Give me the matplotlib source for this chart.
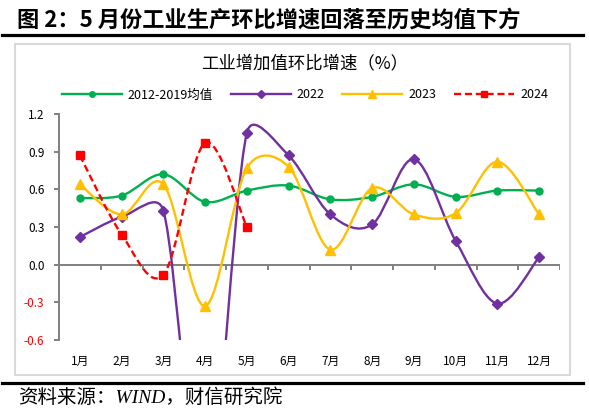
import numpy as np
import matplotlib.pyplot as plt
from matplotlib.path import Path
from matplotlib.patches import PathPatch, Rectangle
from matplotlib.lines import Line2D

plt.rcParams['font.family'] = ['Noto Sans CJK SC', 'DejaVu Sans']

months = ['1月', '2月', '3月', '4月', '5月', '6月', '7月', '8月', '9月', '10月', '11月', '12月']
avg_1219 = [0.53, 0.55, 0.72, 0.50, 0.59, 0.63, 0.52, 0.54, 0.64, 0.54, 0.59, 0.59]
y2022 = [0.22, 0.38, 0.43, -1.96, 1.05, 0.87, 0.40, 0.32, 0.84, 0.19, -0.31, 0.06]
y2023 = [0.64, 0.40, 0.64, -0.33, 0.77, 0.78, 0.12, 0.61, 0.40, 0.41, 0.82, 0.40]
y2024 = [0.87, 0.24, -0.08, 0.97, 0.30]
yticks = [-0.6, -0.3, 0.0, 0.3, 0.6, 0.9, 1.2]

W, H = 589, 415
fig = plt.figure(figsize=(W / 100, H / 100), dpi=100)

ax = fig.add_axes([59 / W, 1 - 340 / H, 501 / W, 226 / H])
ax.set_xlim(0.5, 12.5)
ax.set_ylim(-0.6, 1.2)


def smooth_path(y):
    # Excel-like smoothed line: bezier segments, control points worked out
    # in screen space, tangent = (next - prev)/6, capped to half the segment
    x = np.arange(1, len(y) + 1, dtype=float)
    tr = ax.transData
    p = tr.transform(np.column_stack([x, np.asarray(y, dtype=float)]))
    n = len(p)
    verts = [p[0]]
    codes = [Path.MOVETO]
    for i in range(n - 1):
        p0 = p[i - 1] if i > 0 else p[i]
        p1, p2 = p[i], p[i + 1]
        p3 = p[i + 2] if i + 2 < n else p[i + 1]
        d02 = np.hypot(*(p2 - p0))
        d12 = np.hypot(*(p2 - p1))
        d13 = np.hypot(*(p3 - p1))
        f = 1 / 6 if d02 / 6 < d12 / 2 else d12 / (2 * d02)
        g = 1 / 6 if d13 / 6 < d12 / 2 else d12 / (2 * d13)
        verts += [p1 + f * (p2 - p0), p2 - g * (p3 - p1), p2]
        codes += [Path.CURVE4] * 3
    return Path(tr.inverted().transform(np.array(verts)), codes)


series = [
    (avg_1219, '2012-2019均值', '#00B050', 'o', 5, '-'),
    (y2022, '2022', '#7030A0', 'D', 5, '-'),
    (y2023, '2023', '#FFC000', '^', 7, '-'),
    (y2024, '2024', '#FF0000', 's', 5.5, (0, (3, 1.6))),
]
handles = []
for vals, name, col, mk, ms, ls in series:
    xs = np.arange(1, len(vals) + 1)
    ax.add_patch(PathPatch(smooth_path(vals), fill=False, edgecolor=col,
                           lw=1.7, linestyle=ls, capstyle='butt', zorder=3))
    ax.plot(xs, vals, linestyle='none', marker=mk, ms=ms, color=col, zorder=4)
    handles.append(Line2D([], [], color=col, lw=1.7, linestyle=ls,
                          marker=mk, ms=ms - 1))

# zero axis with category tick marks
ax.axhline(0, color='#808080', lw=1.4, zorder=2)
ax.vlines(np.arange(0.5, 13), -0.04, 0, color='#808080', lw=1.4, zorder=2)

for s in ['top', 'right', 'bottom']:
    ax.spines[s].set_visible(False)
ax.spines['left'].set_color('#808080')
ax.spines['left'].set_linewidth(1.4)

ax.set_yticks(yticks)
ax.set_yticklabels([f'{v:.1f}' for v in yticks])
ax.tick_params(axis='y', length=3.5, width=1.4, color='#808080', pad=7,
               labelsize=8.5)
for lab, v in zip(ax.get_yticklabels(), yticks):
    lab.set_color('#FF0000' if v < 0 else 'black')
ax.set_xticks(np.arange(1, 13))
ax.set_xticklabels(months)
ax.tick_params(axis='x', length=0, pad=11, labelsize=8.5)

fig.legend(handles=handles, labels=[s[1] for s in series], ncol=4,
           loc='center', bbox_to_anchor=(305 / W, 1 - 95 / H), frameon=False,
           fontsize=9, handlelength=4.8, handletextpad=0.5, columnspacing=1.4)

fig.text(305 / W, 1 - 63 / H, '工业增加值环比增速（%）', ha='center', va='center',
         fontsize=12.5)
fig.text(17 / W, 1 - 20 / H, '图 2：5 月份工业生产环比增速回落至历史均值下方',
         ha='left', va='center', fontsize=16, fontweight='bold')
fig.text(18 / W, 1 - 398 / H, '资料来源：WIND，财信研究院', ha='left', va='center',
         fontsize=14, style='italic',
         family=['Liberation Serif', 'Noto Sans CJK SC'])

# frame and rules
fig.patches.append(Rectangle((15 / W, 1 - 375 / H), 555 / W, 331 / H,
                             transform=fig.transFigure, fill=False,
                             edgecolor='#D9D9D9', lw=1.5))
fig.add_artist(Line2D([2 / W, 583 / W], [1 - 35 / H, 1 - 35 / H],
                      color='black', lw=2.3))
fig.add_artist(Line2D([2 / W, 583 / W], [1 - 383 / H, 1 - 383 / H],
                      color='black', lw=2.3))

fig.savefig('out.png', dpi=100)
